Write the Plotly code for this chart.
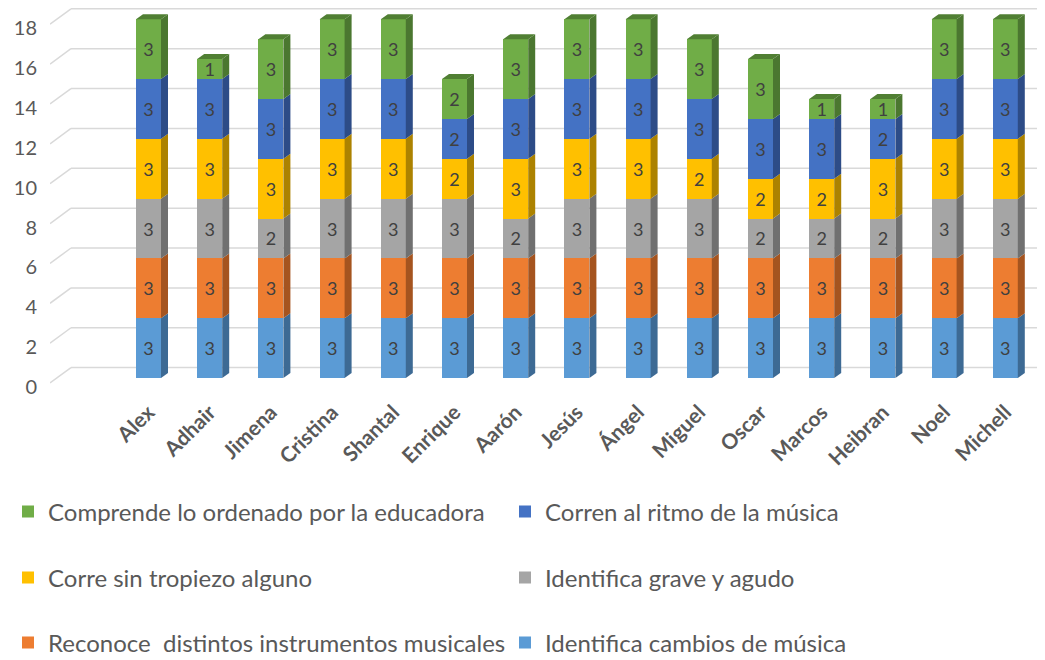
import plotly.graph_objects as go

students = ["Alex", "Adhair", "Jimena", "Cristina", "Shantal", "Enrique", "Aarón",
            "Jesús", "Ángel", "Miguel", "Oscar", "Marcos", "Heibran", "Noel", "Michell"]

series_names = [
    "Identifica cambios de música",
    "Reconoce\u00a0 distintos instrumentos musicales",
    "Identifica grave y agudo",
    "Corre sin tropiezo alguno",
    "Corren al ritmo de la música",
    "Comprende lo ordenado por la educadora",
]

cambios   = [3, 3, 3, 3, 3, 3, 3, 3, 3, 3, 3, 3, 3, 3, 3]
reconoce  = [3, 3, 3, 3, 3, 3, 3, 3, 3, 3, 3, 3, 3, 3, 3]
grave     = [3, 3, 2, 3, 3, 3, 2, 3, 3, 3, 2, 2, 2, 3, 3]
corre     = [3, 3, 3, 3, 3, 2, 3, 3, 3, 2, 2, 2, 3, 3, 3]
ritmo     = [3, 3, 3, 3, 3, 2, 3, 3, 3, 3, 3, 3, 2, 3, 3]
comprende = [3, 1, 3, 3, 3, 2, 3, 3, 3, 3, 3, 1, 1, 3, 3]

y_ticks = [0, 2, 4, 6, 8, 10, 12, 14, 16, 18]

series_values = [cambios, reconoce, grave, corre, ritmo, comprende]
front_colors = ["#5B9BD5", "#ED7D31", "#A5A5A5", "#FFC000", "#4472C4", "#70AD47"]
side_colors  = ["#3D6A94", "#A5541F", "#707070", "#AC8200", "#2D4C87", "#4B7730"]
top_colors   = ["#4D82B2", "#C26425", "#8A8A8A", "#D6A200", "#3A60A6", "#507F33"]

# page has an 8px body margin: figure coordinates = page coordinates - 8
OFF = 8
W, H = 1045 - OFF, 660 - OFF
ml, mr, mt = 50 - OFF, 0, 0
plot_bottom = 395 - OFF
mb = H - plot_bottom
px_x = 61.2                  # pixels per category
px_y = 19.93                 # pixels per unit
x0_px_center = 148.5 - OFF   # first category centre
y0_px = 378 - OFF            # value 0
x_left = -(x0_px_center - ml) / px_x
x_right = x_left + (W - ml - mr) / px_x
y_top = (y0_px - mt) / px_y
y_bot = -(plot_bottom - y0_px) / px_y

bar_w = 25 / px_x
dx = 7 / px_x
dy = 5 / px_y

# legend slots: (legend id, text-left page pixel, row centre page pixel)
legend_slots = [
    ("legend6", 546, 643),  # cambios
    ("legend5", 33, 643),   # reconoce
    ("legend4", 546, 578),  # grave
    ("legend3", 33, 578),   # corre
    ("legend2", 546, 512),  # ritmo
    ("legend", 33, 512),    # comprende
]
legend_text_offset = 41

xs = list(range(len(students)))
fig = go.Figure()
for name, vals, fc, slot in zip(series_names, series_values, front_colors, legend_slots):
    fig.add_trace(go.Bar(
        x=xs, y=vals, name=name, width=bar_w,
        marker=dict(color=fc, line=dict(width=0)),
        text=[str(v) for v in vals], textposition="inside", textangle=0,
        insidetextanchor="middle", constraintext="none",
        textfont=dict(family="Lato", size=18, color="#404040"),
        legend=slot[0], hoverinfo="skip",
    ))

shapes = []
# back-wall gridlines
back = 10.4 / px_y
front = 5 / px_y
wall_x = x_left + 21 / px_x
for v in y_ticks:
    shapes.append(dict(type="line", xref="x", yref="y", x0=x_left, y0=v - front,
                       x1=wall_x, y1=v + back, line=dict(color="#D9D9D9", width=1.5),
                       layer="below"))
    shapes.append(dict(type="line", xref="x", yref="y", x0=wall_x, y0=v + back,
                       x1=x_right, y1=v + back, line=dict(color="#D9D9D9", width=1.5),
                       layer="below"))

# 3D side and top faces
for i in xs:
    base = 0
    n = len(series_values)
    for s in range(n):
        v = series_values[s][i]
        top = base + v
        xr = i + bar_w / 2
        xl = i - bar_w / 2
        shapes.append(dict(
            type="path", xref="x", yref="y", layer="above",
            path=f"M {xr},{base} L {xr+dx},{base+dy} L {xr+dx},{top+dy} L {xr},{top} Z",
            fillcolor=side_colors[s], line=dict(width=0)))
        if s == n - 1:
            shapes.append(dict(
                type="path", xref="x", yref="y", layer="above",
                path=f"M {xl},{top} L {xr},{top} L {xr+dx},{top+dy} L {xl+dx},{top+dy} Z",
                fillcolor=top_colors[s], line=dict(width=0)))
        base = top

legend_layouts = {}
for lid, tx, ty in legend_slots:
    lx = max(0, tx - OFF - legend_text_offset)
    legend_layouts[lid] = dict(
        orientation="h", xref="container", yref="container",
        x=lx / W, xanchor="left",
        y=(H - (ty - OFF)) / H, yanchor="middle",
        font=dict(family="Lato", size=24, color="#595959"),
        bgcolor="rgba(0,0,0,0)")

fig.update_layout(
    width=W, height=H,
    margin=dict(l=ml, r=mr, t=mt, b=mb, autoexpand=False),
    barmode="stack",
    plot_bgcolor="white", paper_bgcolor="white",
    shapes=shapes,
    showlegend=True,
    **legend_layouts,
    xaxis=dict(range=[x_left, x_right], tickmode="array", tickvals=xs, ticktext=students,
               tickangle=-45, showgrid=False, zeroline=False, showline=False, ticks="",
               tickfont=dict(family="Lato", size=21, color="#595959", weight="bold")),
    yaxis=dict(range=[y_bot, y_top], tickmode="array", tickvals=y_ticks,
               showgrid=False, zeroline=False, showline=False, ticks="",
               ticklabelshift=9, ticklabelstandoff=12,
               tickfont=dict(family="Lato", size=20, color="#595959")),
)

fig.write_html("out.html")
